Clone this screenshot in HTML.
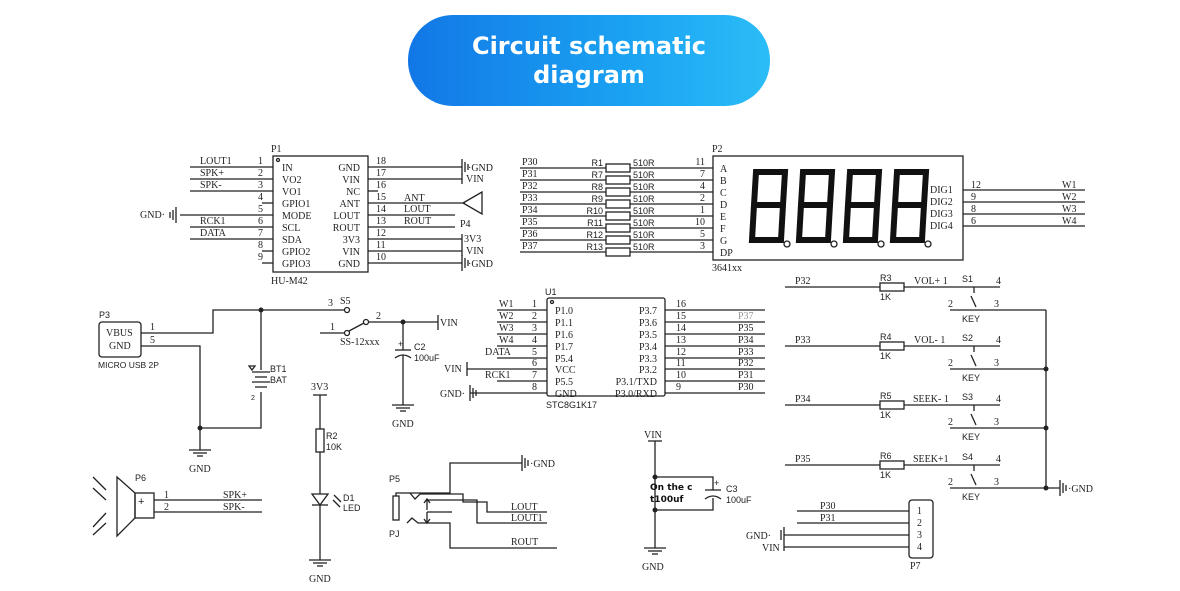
<!DOCTYPE html>
<html><head><meta charset="utf-8"><style>
body{margin:0;width:1180px;height:591px;background:#fff;overflow:hidden}
svg{display:block}
.s{font-family:"Liberation Serif",serif;font-size:10px;fill:#222}
.a{font-family:"Liberation Sans",sans-serif;font-size:9px;fill:#222}
line,path,polyline,rect.c,circle.o{stroke:#222;stroke-width:1.3;fill:none}
path.d{stroke:#111;stroke-width:6;stroke-linejoin:miter;fill:none}
</style></head><body>
<svg width="1180" height="591" viewBox="0 0 1180 591" xmlns="http://www.w3.org/2000/svg">
<defs>
<linearGradient id="g" x1="0" x2="1" y1="0" y2="0"><stop offset="0" stop-color="#1277e6"/><stop offset="0.6" stop-color="#1aa2f2"/><stop offset="1" stop-color="#2bbdf7"/></linearGradient>
<g id="gnd"><line x1="-11" y1="0" x2="11" y2="0"/><line x1="-7" y1="3" x2="7" y2="3"/><line x1="-3" y1="6" x2="3" y2="6"/></g>
<g id="gb"><line x1="0" y1="-8" x2="0" y2="8"/><line x1="-3" y1="-5" x2="-3" y2="5"/><line x1="-6" y1="-3" x2="-6" y2="3"/></g>
<g id="gr"><line x1="0" y1="-8" x2="0" y2="8"/><line x1="3" y1="-5" x2="3" y2="5"/><line x1="6" y1="-3" x2="6" y2="3"/></g>
<g id="dig"><path class="d" d="M6 3 L35 3 L33 36 L4 36 Z M4 36 L2 71 L31 71 L33 36"/></g>
</defs>
<rect x="408" y="15" width="362" height="91" rx="45" fill="url(#g)"/>
<text x="589" y="54" text-anchor="middle" style="font-family:'DejaVu Sans','Liberation Sans',sans-serif;font-weight:bold;font-size:24px;fill:#fff">Circuit schematic</text>
<text x="589" y="83" text-anchor="middle" style="font-family:'DejaVu Sans','Liberation Sans',sans-serif;font-weight:bold;font-size:24px;fill:#fff">diagram</text>

<!-- P1 -->
<rect class="c" x="273" y="156" width="95" height="116"/>
<circle class="o" cx="278" cy="160" r="1.5"/>
<text class="s" x="271" y="152">P1</text>
<text class="s" x="271" y="284">HU-M42</text>
<g>
<line x1="190" y1="167" x2="273" y2="167"/><line x1="190" y1="179" x2="273" y2="179"/><line x1="190" y1="191" x2="273" y2="191"/>
<line x1="262" y1="203" x2="273" y2="203"/><line x1="180" y1="215" x2="273" y2="215"/><line x1="190" y1="227" x2="273" y2="227"/>
<line x1="190" y1="239" x2="273" y2="239"/><line x1="262" y1="251" x2="273" y2="251"/><line x1="262" y1="263" x2="273" y2="263"/>
<line x1="368" y1="167" x2="462" y2="167"/><line x1="368" y1="179" x2="462" y2="179"/><line x1="368" y1="191" x2="378" y2="191"/>
<line x1="368" y1="203" x2="465" y2="203"/><line x1="368" y1="215" x2="455" y2="215"/><line x1="368" y1="227" x2="455" y2="227"/>
<line x1="368" y1="239" x2="462" y2="239"/><line x1="368" y1="251" x2="462" y2="251"/><line x1="368" y1="263" x2="462" y2="263"/>
<path d="M463 203 L482 192 L482 214 Z"/>
<use href="#gr" x="462" y="167"/><use href="#gr" x="462" y="263"/>
<line x1="462" y1="174" x2="462" y2="184"/><line x1="462" y1="234" x2="462" y2="256"/>
<use href="#gb" x="176" y="215"/>
</g>
<text class="s" x="200" y="164">LOUT1</text><text class="s" x="200" y="176">SPK+</text><text class="s" x="200" y="188">SPK-</text>
<text class="s" x="200" y="224">RCK1</text><text class="s" x="200" y="236">DATA</text><text class="s" x="140" y="218">GND·</text>
<text class="s" x="258" y="164">1</text><text class="s" x="258" y="176">2</text><text class="s" x="258" y="188">3</text><text class="s" x="258" y="200">4</text><text class="s" x="258" y="212">5</text><text class="s" x="258" y="224">6</text><text class="s" x="258" y="236">7</text><text class="s" x="258" y="248">8</text><text class="s" x="258" y="260">9</text>
<text class="s" x="282" y="171">IN</text><text class="s" x="282" y="183">VO2</text><text class="s" x="282" y="195">VO1</text><text class="s" x="282" y="207">GPIO1</text><text class="s" x="282" y="219">MODE</text><text class="s" x="282" y="231">SCL</text><text class="s" x="282" y="243">SDA</text><text class="s" x="282" y="255">GPIO2</text><text class="s" x="282" y="267">GPIO3</text>
<g text-anchor="end"><text class="s" x="360" y="171">GND</text><text class="s" x="360" y="183">VIN</text><text class="s" x="360" y="195">NC</text><text class="s" x="360" y="207">ANT</text><text class="s" x="360" y="219">LOUT</text><text class="s" x="360" y="231">ROUT</text><text class="s" x="360" y="243">3V3</text><text class="s" x="360" y="255">VIN</text><text class="s" x="360" y="267">GND</text></g>
<text class="s" x="376" y="164">18</text><text class="s" x="376" y="176">17</text><text class="s" x="376" y="188">16</text><text class="s" x="376" y="200">15</text><text class="s" x="376" y="212">14</text><text class="s" x="376" y="224">13</text><text class="s" x="376" y="236">12</text><text class="s" x="376" y="248">11</text><text class="s" x="376" y="260">10</text>
<text class="s" x="404" y="201">ANT</text><text class="s" x="404" y="212">LOUT</text><text class="s" x="404" y="224">ROUT</text><text class="s" x="460" y="227">P4</text>
<text class="s" x="468" y="171">·GND</text><text class="s" x="466" y="182">VIN</text><text class="s" x="464" y="242">3V3</text><text class="s" x="466" y="254">VIN</text><text class="s" x="468" y="267">·GND</text>

<!-- P2 resistors -->
<g>
<line x1="520" y1="168" x2="713" y2="168"/><line x1="520" y1="180" x2="713" y2="180"/><line x1="520" y1="192" x2="713" y2="192"/><line x1="520" y1="204" x2="713" y2="204"/>
<line x1="520" y1="216" x2="713" y2="216"/><line x1="520" y1="228" x2="713" y2="228"/><line x1="520" y1="240" x2="713" y2="240"/><line x1="520" y1="252" x2="713" y2="252"/>
<rect class="c" x="606" y="164" width="24" height="8" style="fill:#fff"/><rect class="c" x="606" y="176" width="24" height="8" style="fill:#fff"/><rect class="c" x="606" y="188" width="24" height="8" style="fill:#fff"/><rect class="c" x="606" y="200" width="24" height="8" style="fill:#fff"/><rect class="c" x="606" y="212" width="24" height="8" style="fill:#fff"/><rect class="c" x="606" y="224" width="24" height="8" style="fill:#fff"/><rect class="c" x="606" y="236" width="24" height="8" style="fill:#fff"/><rect class="c" x="606" y="248" width="24" height="8" style="fill:#fff"/>
</g>
<text class="s" x="522" y="165">P30</text><text class="s" x="522" y="177">P31</text><text class="s" x="522" y="189">P32</text><text class="s" x="522" y="201">P33</text><text class="s" x="522" y="213">P34</text><text class="s" x="522" y="225">P35</text><text class="s" x="522" y="237">P36</text><text class="s" x="522" y="249">P37</text>
<g text-anchor="end"><text class="a" x="603" y="166">R1</text><text class="a" x="603" y="178">R7</text><text class="a" x="603" y="190">R8</text><text class="a" x="603" y="202">R9</text><text class="a" x="603" y="214">R10</text><text class="a" x="603" y="226">R11</text><text class="a" x="603" y="238">R12</text><text class="a" x="603" y="250">R13</text>
<text class="s" x="705" y="165">11</text><text class="s" x="705" y="177">7</text><text class="s" x="705" y="189">4</text><text class="s" x="705" y="201">2</text><text class="s" x="705" y="213">1</text><text class="s" x="705" y="225">10</text><text class="s" x="705" y="237">5</text><text class="s" x="705" y="249">3</text></g>
<text class="a" x="633" y="166">510R</text><text class="a" x="633" y="178">510R</text><text class="a" x="633" y="190">510R</text><text class="a" x="633" y="202">510R</text><text class="a" x="633" y="214">510R</text><text class="a" x="633" y="226">510R</text><text class="a" x="633" y="238">510R</text><text class="a" x="633" y="250">510R</text>
<rect class="c" x="713" y="156" width="250" height="104"/>
<text class="s" x="712" y="152">P2</text><text class="s" x="712" y="271">3641xx</text>
<text class="s" x="720" y="172">A</text><text class="s" x="720" y="184">B</text><text class="s" x="720" y="196">C</text><text class="s" x="720" y="208">D</text><text class="s" x="720" y="220">E</text><text class="s" x="720" y="232">F</text><text class="s" x="720" y="244">G</text><text class="s" x="720" y="256">DP</text>
<use href="#dig" x="750" y="169"/><use href="#dig" x="797" y="169"/><use href="#dig" x="844" y="169"/><use href="#dig" x="891" y="169"/>
<circle class="o" cx="787" cy="244" r="3"/><circle class="o" cx="834" cy="244" r="3"/><circle class="o" cx="881" cy="244" r="3"/><circle class="o" cx="928" cy="244" r="3"/>
<text class="s" x="930" y="193">DIG1</text><text class="s" x="930" y="205">DIG2</text><text class="s" x="930" y="217">DIG3</text><text class="s" x="930" y="229">DIG4</text>
<line x1="963" y1="190" x2="1085" y2="190"/><line x1="963" y1="202" x2="1085" y2="202"/><line x1="963" y1="214" x2="1085" y2="214"/><line x1="963" y1="226" x2="1085" y2="226"/>
<text class="s" x="971" y="188">12</text><text class="s" x="971" y="200">9</text><text class="s" x="971" y="212">8</text><text class="s" x="971" y="224">6</text>
<text class="s" x="1062" y="188">W1</text><text class="s" x="1062" y="200">W2</text><text class="s" x="1062" y="212">W3</text><text class="s" x="1062" y="224">W4</text>

<!-- P3 / power -->
<rect class="c" x="99" y="322" width="42" height="35" rx="3"/>
<text class="a" x="99" y="318">P3</text><text class="s" x="106" y="336">VBUS</text><text class="s" x="109" y="349">GND</text>
<text class="a" x="98" y="368" style="font-size:8.5px">MICRO USB 2P</text>
<text class="s" x="150" y="330">1</text><text class="s" x="150" y="343">5</text>
<polyline points="141,333 213,333 213,310 345,310"/>
<polyline points="141,346 200,346 200,450"/>
<polyline points="261,310 261,370"/><polyline points="261,392 261,428 200,428"/>
<line x1="252" y1="372" x2="270" y2="372"/><line x1="255" y1="377" x2="267" y2="377"/><line x1="252" y1="382" x2="270" y2="382"/><line x1="255" y1="387" x2="267" y2="387"/>
<path d="M249 366 L255 366 L252 370 Z" fill="#222"/>
<text class="a" x="270" y="372">BT1</text><text class="a" x="270" y="383">BAT</text><text class="a" x="251" y="400" style="font-size:7px">2</text>
<circle cx="261" cy="310" r="2.5" fill="#222"/><circle cx="200" cy="428" r="2.5" fill="#222"/>
<use href="#gnd" x="200" y="450"/><text class="s" x="189" y="472">GND</text>
<text class="s" x="328" y="306">3</text><text class="s" x="340" y="304">S5</text>
<circle class="o" cx="347" cy="310" r="2.5" style="fill:#fff"/>
<line x1="320" y1="333" x2="345" y2="333"/><text class="s" x="330" y="330">1</text>
<circle class="o" cx="347" cy="333" r="2.5" style="fill:#fff"/><line x1="349" y1="331" x2="364" y2="323"/>
<circle class="o" cx="366" cy="322" r="2.5" style="fill:#fff"/>
<line x1="368" y1="322" x2="438" y2="322"/><text class="s" x="376" y="319">2</text>
<line x1="438" y1="315" x2="438" y2="330"/><text class="s" x="440" y="326">VIN</text>
<circle cx="403" cy="322" r="2.5" fill="#222"/>
<text class="s" x="340" y="345">SS-12xxx</text>
<line x1="403" y1="322" x2="403" y2="350"/><line x1="395" y1="350" x2="411" y2="350"/><path d="M395 358 Q403 352 411 358"/><line x1="403" y1="355" x2="403" y2="405"/>
<text class="a" x="398" y="347">+</text><text class="a" x="414" y="350">C2</text><text class="a" x="414" y="361">100uF</text>
<use href="#gnd" x="403" y="405"/><text class="s" x="392" y="427">GND</text>

<!-- U1 -->
<rect class="c" x="547" y="298" width="118" height="98" rx="2"/>
<circle class="o" cx="552" cy="302" r="1.5"/>
<text class="a" x="545" y="295">U1</text><text class="a" x="546" y="408">STC8G1K17</text>
<line x1="497" y1="310" x2="547" y2="310"/><line x1="497" y1="322" x2="547" y2="322"/><line x1="497" y1="334" x2="547" y2="334"/><line x1="497" y1="346" x2="547" y2="346"/>
<line x1="497" y1="358" x2="547" y2="358"/><line x1="467" y1="369" x2="547" y2="369"/><line x1="497" y1="381" x2="547" y2="381"/><line x1="470" y1="393" x2="547" y2="393"/>
<line x1="467" y1="362" x2="467" y2="376"/><use href="#gr" x="470" y="393"/>
<text class="s" x="499" y="307">W1</text><text class="s" x="499" y="319">W2</text><text class="s" x="499" y="331">W3</text><text class="s" x="499" y="343">W4</text><text class="s" x="485" y="355">DATA</text><text class="s" x="444" y="372">VIN</text><text class="s" x="485" y="378">RCK1</text><text class="s" x="440" y="397">GND·</text>
<text class="s" x="532" y="307">1</text><text class="s" x="532" y="319">2</text><text class="s" x="532" y="331">3</text><text class="s" x="532" y="343">4</text><text class="s" x="532" y="355">5</text><text class="s" x="532" y="366">6</text><text class="s" x="532" y="378">7</text><text class="s" x="532" y="390">8</text>
<text class="s" x="555" y="314">P1.0</text><text class="s" x="555" y="326">P1.1</text><text class="s" x="555" y="338">P1.6</text><text class="s" x="555" y="350">P1.7</text><text class="s" x="555" y="362">P5.4</text><text class="s" x="555" y="373">VCC</text><text class="s" x="555" y="385">P5.5</text><text class="s" x="555" y="397">GND</text>
<g text-anchor="end"><text class="s" x="657" y="314">P3.7</text><text class="s" x="657" y="326">P3.6</text><text class="s" x="657" y="338">P3.5</text><text class="s" x="657" y="350">P3.4</text><text class="s" x="657" y="362">P3.3</text><text class="s" x="657" y="373">P3.2</text><text class="s" x="657" y="385">P3.1/TXD</text><text class="s" x="657" y="397">P3.0/RXD</text></g>
<line x1="665" y1="310" x2="765" y2="310"/><line x1="665" y1="322" x2="765" y2="322"/><line x1="665" y1="334" x2="765" y2="334"/><line x1="665" y1="346" x2="765" y2="346"/>
<line x1="665" y1="358" x2="765" y2="358"/><line x1="665" y1="369" x2="765" y2="369"/><line x1="665" y1="381" x2="765" y2="381"/><line x1="665" y1="393" x2="765" y2="393"/>
<text class="s" x="676" y="307">16</text><text class="s" x="676" y="319">15</text><text class="s" x="676" y="331">14</text><text class="s" x="676" y="343">13</text><text class="s" x="676" y="355">12</text><text class="s" x="676" y="366">11</text><text class="s" x="676" y="378">10</text><text class="s" x="676" y="390">9</text>
<text class="s" x="738" y="319" style="fill:#999">P37</text><text class="s" x="738" y="331">P35</text><text class="s" x="738" y="343">P34</text><text class="s" x="738" y="355">P33</text><text class="s" x="738" y="366">P32</text><text class="s" x="738" y="378">P31</text><text class="s" x="738" y="390">P30</text>

<!-- Keys -->
<line x1="785" y1="287" x2="1000" y2="287"/><line x1="785" y1="346" x2="1000" y2="346"/><line x1="785" y1="405" x2="1000" y2="405"/><line x1="785" y1="465" x2="1000" y2="465"/>
<rect class="c" x="880" y="283" width="24" height="8" style="fill:#fff"/><rect class="c" x="880" y="342" width="24" height="8" style="fill:#fff"/><rect class="c" x="880" y="401" width="24" height="8" style="fill:#fff"/><rect class="c" x="880" y="461" width="24" height="8" style="fill:#fff"/>
<line x1="950" y1="310" x2="1046" y2="310"/><line x1="950" y1="369" x2="1046" y2="369"/><line x1="950" y1="428" x2="1046" y2="428"/><line x1="950" y1="488" x2="1060" y2="488"/>
<line x1="1046" y1="310" x2="1046" y2="488"/>
<circle cx="1046" cy="369" r="2.5" fill="#222"/><circle cx="1046" cy="428" r="2.5" fill="#222"/><circle cx="1046" cy="488" r="2.5" fill="#222"/>
<use href="#gr" x="1060" y="488"/><text class="s" x="1068" y="492">·GND</text>
<g>
<line x1="974" y1="287" x2="974" y2="293"/><line x1="971" y1="296" x2="976" y2="307"/>
<line x1="974" y1="346" x2="974" y2="352"/><line x1="971" y1="355" x2="976" y2="366"/>
<line x1="974" y1="405" x2="974" y2="411"/><line x1="971" y1="414" x2="976" y2="425"/>
<line x1="974" y1="465" x2="974" y2="471"/><line x1="971" y1="474" x2="976" y2="485"/>
</g>
<text class="s" x="795" y="284">P32</text><text class="s" x="795" y="343">P33</text><text class="s" x="795" y="402">P34</text><text class="s" x="795" y="462">P35</text>
<text class="a" x="880" y="281">R3</text><text class="a" x="880" y="340">R4</text><text class="a" x="880" y="399">R5</text><text class="a" x="880" y="459">R6</text>
<text class="a" x="880" y="300">1K</text><text class="a" x="880" y="359">1K</text><text class="a" x="880" y="418">1K</text><text class="a" x="880" y="478">1K</text>
<text class="s" x="914" y="284">VOL+  1</text><text class="s" x="914" y="343">VOL-  1</text><text class="s" x="913" y="402">SEEK- 1</text><text class="s" x="913" y="462">SEEK+1</text>
<text class="a" x="962" y="282">S1</text><text class="a" x="962" y="341">S2</text><text class="a" x="962" y="400">S3</text><text class="a" x="962" y="460">S4</text>
<text class="s" x="996" y="284">4</text><text class="s" x="996" y="343">4</text><text class="s" x="996" y="402">4</text><text class="s" x="996" y="462">4</text>
<text class="s" x="948" y="307">2</text><text class="s" x="948" y="366">2</text><text class="s" x="948" y="425">2</text><text class="s" x="948" y="485">2</text>
<text class="s" x="994" y="307">3</text><text class="s" x="994" y="366">3</text><text class="s" x="994" y="425">3</text><text class="s" x="994" y="485">3</text>
<text class="a" x="962" y="322">KEY</text><text class="a" x="962" y="381">KEY</text><text class="a" x="962" y="440">KEY</text><text class="a" x="962" y="500">KEY</text>

<!-- Speaker -->
<path d="M117 477 L135 493 L135 518 L117 536 Z"/><rect class="c" x="135" y="493" width="19" height="25"/>
<text class="a" x="138" y="505" style="font-size:11px">+</text>
<line x1="93" y1="477" x2="106" y2="490"/><line x1="93" y1="488" x2="106" y2="500"/><line x1="93" y1="527" x2="106" y2="513"/><line x1="93" y1="535" x2="106" y2="523"/>
<text class="a" x="135" y="481">P6</text>
<line x1="154" y1="500" x2="262" y2="500"/><line x1="154" y1="512" x2="262" y2="512"/>
<text class="s" x="164" y="498">1</text><text class="s" x="164" y="510">2</text><text class="s" x="223" y="498">SPK+</text><text class="s" x="223" y="510">SPK-</text>

<!-- LED -->
<text class="s" x="311" y="390">3V3</text>
<line x1="313" y1="395" x2="327" y2="395"/><line x1="320" y1="395" x2="320" y2="429"/>
<rect class="c" x="316" y="429" width="8" height="23"/>
<text class="a" x="326" y="439">R2</text><text class="a" x="326" y="450">10K</text>
<line x1="320" y1="452" x2="320" y2="494"/>
<path d="M312 494 L328 494 L320 505 Z"/><line x1="312" y1="505" x2="328" y2="505"/>
<line x1="334" y1="495" x2="341" y2="502"/><line x1="333" y1="500" x2="340" y2="507"/>
<text class="a" x="343" y="501">D1</text><text class="a" x="343" y="511">LED</text>
<line x1="320" y1="505" x2="320" y2="560"/><use href="#gnd" x="320" y="560"/><text class="s" x="309" y="582">GND</text>

<!-- PJ -->
<rect class="c" x="393" y="496" width="6" height="24"/>
<text class="a" x="389" y="482">P5</text><text class="a" x="389" y="537">PJ</text>
<polyline points="396,496 396,493 450,493 450,463 522,463"/>
<use href="#gr" x="522" y="463"/><text class="s" x="530" y="467">·GND</text>
<polyline points="410,493 415,499 420,494 463,494 463,502 487,502 487,512 547,512"/>
<polyline points="427,510 427,500 477,500 477,523 547,523"/><path d="M424 503 L427 499 L430 503"/>
<polyline points="427,512 452,512"/><line x1="427" y1="512" x2="427" y2="522"/><path d="M424 519 L427 523 L430 519"/>
<polyline points="407,523 412,518 418,523 450,523 450,548 557,548"/>
<text class="s" x="511" y="510">LOUT</text><text class="s" x="511" y="521">LOUT1</text><text class="s" x="511" y="545">ROUT</text>

<!-- C3 -->
<text class="s" x="644" y="438">VIN</text>
<line x1="648" y1="441" x2="662" y2="441"/><line x1="655" y1="441" x2="655" y2="548"/>
<polyline points="655,477 713,477 713,490"/><polyline points="655,510 713,510 713,498"/>
<line x1="705" y1="490" x2="721" y2="490"/><path d="M705 499 Q713 493 721 499"/>
<text class="a" x="714" y="486">+</text><text class="a" x="726" y="492">C3</text><text class="a" x="726" y="503">100uF</text>
<circle cx="655" cy="477" r="2.5" fill="#222"/><circle cx="655" cy="510" r="2.5" fill="#222"/>
<text x="650" y="490" style="font-family:'DejaVu Sans',sans-serif;font-weight:bold;font-size:9px;fill:#111">On the c</text>
<text x="650" y="502" style="font-family:'DejaVu Sans',sans-serif;font-weight:bold;font-size:9px;fill:#111">t100uf</text>
<use href="#gnd" x="655" y="548"/><text class="s" x="642" y="570">GND</text>

<!-- P7 -->
<rect class="c" x="909" y="500" width="24" height="58" rx="3"/>
<line x1="797" y1="511" x2="909" y2="511"/><line x1="797" y1="523" x2="909" y2="523"/><line x1="784" y1="535" x2="909" y2="535"/><line x1="784" y1="547" x2="909" y2="547"/>
<line x1="784" y1="527" x2="784" y2="551"/><line x1="781" y1="530" x2="781" y2="540"/>
<text class="s" x="820" y="509">P30</text><text class="s" x="820" y="521">P31</text><text class="s" x="746" y="539">GND·</text><text class="s" x="762" y="551">VIN</text>
<text class="s" x="917" y="514">1</text><text class="s" x="917" y="526">2</text><text class="s" x="917" y="538">3</text><text class="s" x="917" y="550">4</text>
<text class="s" x="910" y="569">P7</text>
</svg>
</body></html>
